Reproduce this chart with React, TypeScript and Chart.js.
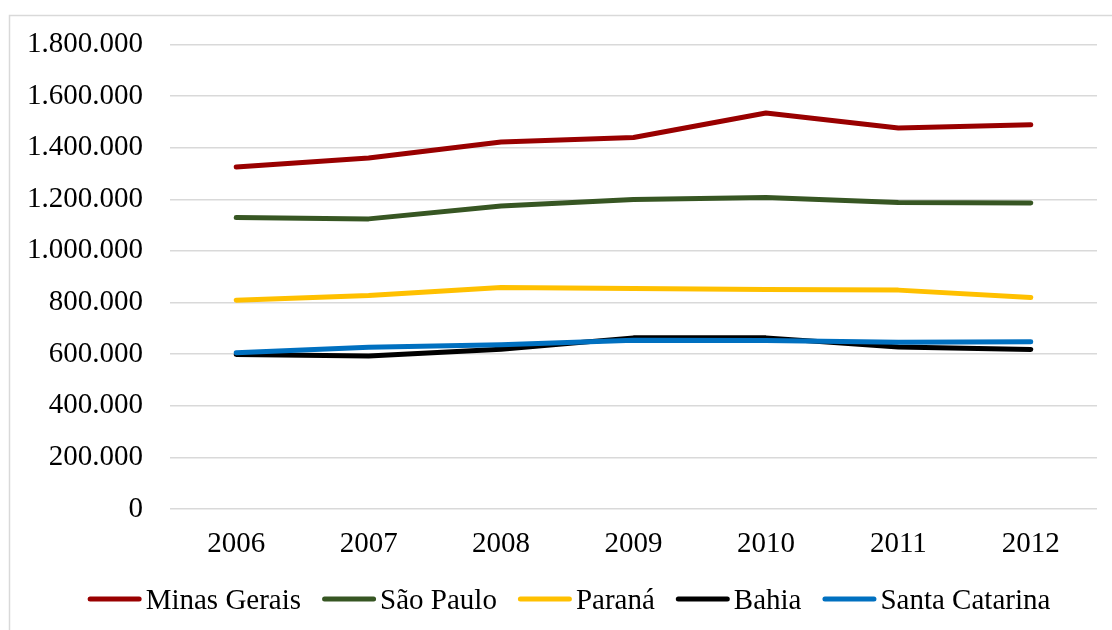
import React, { useEffect, useRef } from "react";
import { Chart, registerables } from "chart.js";

Chart.register(...registerables);

const categories = ["2006", "2007", "2008", "2009", "2010", "2011", "2012"];
const minasGerais = [1325000, 1360000, 1422000, 1439000, 1534000, 1476000, 1489000];
const saoPaulo = [1129000, 1124000, 1174000, 1199000, 1207000, 1187000, 1186000];
const parana = [809000, 827000, 858000, 854000, 850000, 848000, 819000];
const bahia = [599000, 593000, 619000, 663000, 663000, 628000, 618000];
const santaCatarina = [605000, 627000, 636000, 654000, 653000, 646000, 648000];
const seriesNames = ["Minas Gerais", "São Paulo", "Paraná", "Bahia", "Santa Catarina"];
const seriesValues = [minasGerais, saoPaulo, parana, bahia, santaCatarina];
const seriesColors = ["#990000", "#375623", "#FFC000", "#000000", "#0070C0"];
const yMin = 0;
const yMax = 1800000;
const yStep = 200000;

const FONT_FAMILY = "'Liberation Serif', 'Times New Roman', serif";
const FONT_SIZE = 29;

function formatThousands(v: number): string {
  return Math.round(v).toString().replace(/\B(?=(\d{3})+(?!\d))/g, ".");
}

const frameAndLegend = {
  id: "frameAndLegend",
  beforeDraw(chart: any) {
    const ctx = chart.ctx;
    ctx.save();
    ctx.fillStyle = "#ffffff";
    ctx.fillRect(0, 0, chart.width, chart.height);
    ctx.strokeStyle = "#d9d9d9";
    ctx.lineWidth = 1.5;
    ctx.beginPath();
    ctx.moveTo(9.5, chart.height);
    ctx.lineTo(9.5, 15.5);
    ctx.lineTo(chart.width, 15.5);
    ctx.stroke();
    ctx.restore();
  },
  afterDraw(chart: any) {
    const ctx = chart.ctx;
    ctx.save();
    ctx.font = `${FONT_SIZE}px ${FONT_FAMILY}`;
    const boxW = 54;
    const gap = 4;
    const itemGap = 21;
    const widths = seriesNames.map((n) => ctx.measureText(n).width);
    const total =
      widths.reduce((a, w) => a + boxW + gap + w, 0) + itemGap * (seriesNames.length - 1);
    let x = 569 - total / 2;
    const lineY = 599;
    const textY = 609;
    seriesNames.forEach((name, i) => {
      ctx.strokeStyle = seriesColors[i];
      ctx.lineWidth = 5;
      ctx.lineCap = "round";
      ctx.beginPath();
      ctx.moveTo(x + 2.5, lineY);
      ctx.lineTo(x + boxW - 2.5, lineY);
      ctx.stroke();
      ctx.fillStyle = "#000000";
      ctx.textBaseline = "alphabetic";
      ctx.textAlign = "left";
      ctx.fillText(name, x + boxW + gap, textY);
      x += boxW + gap + widths[i] + itemGap;
    });
    ctx.restore();
  },
};

export default function App() {
  const canvasRef = useRef<HTMLCanvasElement | null>(null);

  useEffect(() => {
    const canvas = canvasRef.current;
    if (!canvas) return;
    const chart = new Chart(canvas, {
      type: "line",
      data: {
        labels: categories,
        datasets: seriesNames.map((name, i) => ({
          label: name,
          data: seriesValues[i],
          borderColor: seriesColors[i],
          backgroundColor: seriesColors[i],
          borderWidth: 5,
          borderCapStyle: "round",
          borderJoinStyle: "round",
          pointRadius: 0,
          pointHoverRadius: 0,
          tension: 0,
          fill: false,
          order: seriesNames.length - 1 - i,
        })),
      },
      options: {
        responsive: false,
        maintainAspectRatio: false,
        animation: false,
        layout: { padding: { left: 0, right: 15, top: 44, bottom: 61 } },
        plugins: {
          legend: { display: false },
          tooltip: { enabled: false },
          title: { display: false },
        },
        scales: {
          x: {
            type: "category",
            offset: true,
            grid: { display: false, drawTicks: false },
            border: { display: false },
            ticks: {
              color: "#000000",
              font: { family: FONT_FAMILY, size: FONT_SIZE },
              padding: 18,
              maxRotation: 0,
              autoSkip: false,
            },
            afterFit: (scale: any) => {
              scale.height = 60;
            },
          },
          y: {
            min: yMin,
            max: yMax,
            grid: { color: "#d9d9d9", lineWidth: 1.5, drawTicks: false },
            border: { display: false },
            ticks: {
              stepSize: yStep,
              color: "#000000",
              font: { family: FONT_FAMILY, size: FONT_SIZE },
              padding: 27,
              callback: (v: any) => formatThousands(Number(v)),
            },
            afterFit: (scale: any) => {
              scale.width = 170;
            },
          },
        },
      },
      plugins: [frameAndLegend],
    });
    return () => chart.destroy();
  }, []);

  return (
    <div style={{ position: "fixed", left: 0, top: 0, width: 1112, height: 630, background: "#fff" }}>
      <canvas ref={canvasRef} width={1112} height={630} style={{ display: "block" }} />
    </div>
  );
}
